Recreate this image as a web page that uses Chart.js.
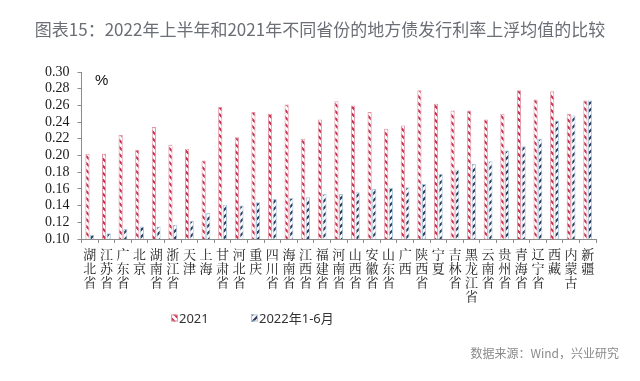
<!DOCTYPE html>
<html><head><meta charset="utf-8">
<script src="https://cdn.jsdelivr.net/npm/chart.js@4/dist/chart.umd.min.js"></script>
<style>
html,body{margin:0;padding:0;background:#fff;}
#wrap{position:relative;width:640px;height:381px;overflow:hidden;}
#c{position:absolute;left:0;top:0;}
#title{position:absolute;left:0;width:640px;top:16px;text-align:center;font-family:"Noto Sans CJK SC","Noto Sans",sans-serif;font-size:17px;color:#6b6e74;white-space:nowrap;letter-spacing:0px;}
#unit{position:absolute;left:95px;top:71px;font-family:"Liberation Sans",Arial,sans-serif;font-size:15px;color:#111;}
#src{position:absolute;right:21px;top:344px;font-family:"Noto Sans CJK SC","Noto Sans",sans-serif;font-size:12px;color:#8a8a8a;white-space:nowrap;}
</style></head>
<body><div id="wrap">
<canvas id="c" width="640" height="381"></canvas>
<div id="title">图表15：2022年上半年和2021年不同省份的地方债发行利率上浮均值的比较</div>
<div id="unit">%</div>
<div id="src">数据来源：Wind，兴业研究</div>
</div>
<script>
const categories = ['湖北省','江苏省','广东省','北京','湖南省','浙江省','天津','上海','甘肃省','河北省','重庆','四川省','海南省','江西省','福建省','河南省','山西省','安徽省','山东省','广西','陕西省','宁夏','吉林省','黑龙江省','云南省','贵州省','青海省','辽宁省','西藏','内蒙古','新疆'];
const v2021 = [0.202,0.202,0.225,0.207,0.234,0.213,0.208,0.194,0.258,0.222,0.252,0.250,0.261,0.220,0.243,0.265,0.260,0.252,0.232,0.236,0.278,0.262,0.254,0.254,0.243,0.250,0.278,0.267,0.277,0.250,0.266];
const v2022 = [0.105,0.107,0.112,0.115,0.115,0.117,0.122,0.131,0.141,0.140,0.144,0.148,0.149,0.150,0.154,0.154,0.156,0.160,0.161,0.162,0.166,0.178,0.183,0.190,0.193,0.206,0.211,0.220,0.242,0.248,0.266];
const seriesNames = ['2021','2022年1-6月'];
const yTicks = {min:0.10, max:0.30, step:0.02};

function stripe(color, dir){
  const s = 7;
  const c = document.createElement('canvas'); c.width = s; c.height = s;
  const g = c.getContext('2d');
  g.fillStyle = '#fff'; g.fillRect(0,0,s,s);
  g.strokeStyle = color; g.lineWidth = 2.2; g.lineCap='butt';
  g.beginPath();
  if (dir > 0) { // "/"
    g.moveTo(-1,s+1); g.lineTo(s+1,-1);
    g.moveTo(-1,1); g.lineTo(1,-1);
    g.moveTo(s-1,s+1); g.lineTo(s+1,s-1);
  } else { // "\"
    g.moveTo(-1,-1); g.lineTo(s+1,s+1);
    g.moveTo(-1,s-1); g.lineTo(1,s+1);
    g.moveTo(s-1,-1); g.lineTo(s+1,1);
  }
  g.stroke();
  return g.createPattern(c,'repeat');
}
const redPat = stripe('#c3304f', -1);
const bluePat = stripe('#2c3b5e', 1);

const legendPlugin = {
  id:'customLegend',
  afterDraw(chart){
    const ctx = chart.ctx;
    const items = [
      {x:171, ds:0},
      {x:251, ds:1}
    ];
    ctx.save();
    ctx.font = '13px "Noto Sans","Noto Sans CJK SC",sans-serif';
    ctx.textBaseline = 'middle';
    const y = 318;
    items.forEach(it=>{
      const d = chart.data.datasets[it.ds];
      ctx.fillStyle = d.backgroundColor;
      ctx.fillRect(it.x, y-3.5, 6, 7);
      ctx.strokeStyle = d.borderColor; ctx.lineWidth = 1;
      ctx.strokeRect(it.x+0.5, y-3, 6, 6);
      ctx.fillStyle = '#333';
      ctx.fillText(d.label, it.x+8, y+1);
    });
    ctx.restore();
  }
};

new Chart(document.getElementById('c'), {
  type:'bar',
  data:{
    labels: categories.map(s=>s.split('')),
    datasets:[
      {label:seriesNames[0], data:v2021, backgroundColor:redPat, borderColor:'#e493a3', borderWidth:1, categoryPercentage:0.56, barPercentage:0.9},
      {label:seriesNames[1], data:v2022, backgroundColor:bluePat, borderColor:'#a9c6dc', borderWidth:1, categoryPercentage:0.56, barPercentage:0.9}
    ]
  },
  options:{
    responsive:false, animation:false,
    layout:{padding:{left:37, right:44, top:72, bottom:74}},
    plugins:{legend:{display:false}, title:{display:false}, tooltip:{enabled:false}},
    scales:{
      x:{
        grid:{display:true, drawOnChartArea:false, drawTicks:true, tickLength:4, color:'#8c8c8c', offset:true},
        border:{display:true, color:'#8c8c8c'},
        ticks:{autoSkip:false, maxRotation:0, minRotation:0, padding:4, color:'#1a1a1a',
          font:{family:'"Noto Serif CJK SC","Noto Sans CJK SC",serif', size:13, lineHeight:'14px'}}
      },
      y:{
        min:yTicks.min, max:yTicks.max,
        grid:{display:true, drawOnChartArea:false, drawTicks:true, tickLength:4, color:'#8c8c8c'},
        border:{display:true, color:'#8c8c8c'},
        ticks:{stepSize:yTicks.step, autoSkip:false, padding:8, color:'#1a1a1a',
          font:{family:'"Liberation Serif","Times New Roman",serif', size:14},
          callback:v=>Number(v).toFixed(2)}
      }
    }
  },
  plugins:[legendPlugin]
});
</script>
</body></html>
